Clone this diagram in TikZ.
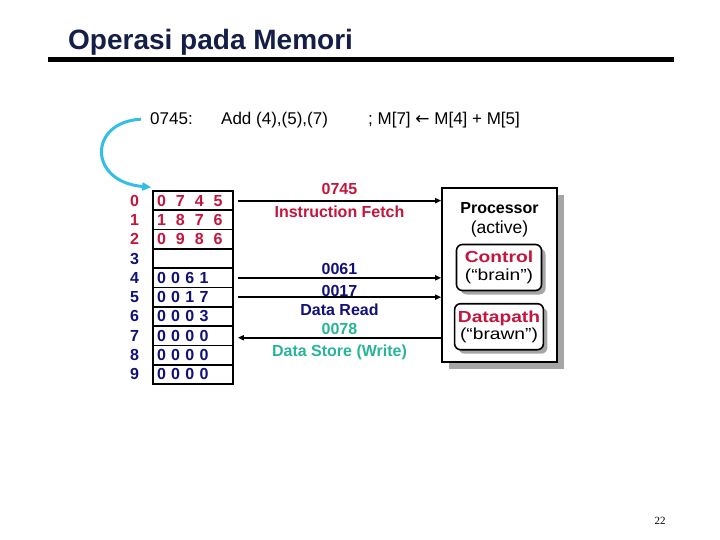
\documentclass[tikz,border=0pt]{standalone}
\usepackage{fontspec}
\setmainfont{Liberation Sans}
\newfontfamily\pagefont{Liberation Serif}
\newfontfamily\arrowfont{DejaVu Sans}
\newfontfamily\widefont[FakeStretch=1.2]{Liberation Sans}
\usetikzlibrary{arrows.meta,positioning,shadows}
\definecolor{memred}{RGB}{196,22,60}
\definecolor{memblue}{RGB}{16,16,120}
\definecolor{memteal}{RGB}{40,180,150}
\definecolor{titleblue}{RGB}{20,30,70}
\definecolor{fetchcyan}{RGB}{50,190,230}
\newcommand{\dgap}{\hspace{10pt}}

\begin{document}
\begin{tikzpicture}[x=1pt,y=-1pt,>={Triangle[length=6pt,width=5pt]},every node/.style={font=\fontsize{16}{18}\selectfont},cell/.style={draw,line width=1.6pt,minimum height=19.3pt,text width=72pt,inner xsep=4pt,inner ysep=0pt,align=left,font=\fontsize{16}{18}\selectfont\bfseries},idx/.style={inner sep=1pt,font=\fontsize{16}{18}\selectfont\bfseries},bus/.style={->,line width=2pt},tag/.style={inner sep=0pt,font=\fontsize{16}{18}\selectfont\bfseries},unit/.style={draw,fill=white,line width=1.6pt,rounded corners=6pt,align=center,minimum width=85pt,minimum height=46pt,font=\widefont\fontsize{16}{17.5}\selectfont,general shadow={fill=black!35,shadow xshift=4pt,shadow yshift=-4pt}}]
\useasboundingbox (0,0) rectangle (720,540);
% title
\node[anchor=base west,inner sep=0pt,text=titleblue,font=\fontsize{28}{30}\selectfont\bfseries] (title) at (68,50) {Operasi pada Memori};
\draw[line width=5pt] (48,60) -- (674,60);
% instruction
\node[anchor=base west,inner sep=0pt,font=\fontsize{17}{18}\selectfont] (addr) at (150,125) {0745:};
\node[anchor=base west,inner sep=0pt,font=\fontsize{17}{18}\selectfont] (instr) at (221,125) {Add (4),(5),(7)};
\node[anchor=base west,inner sep=0pt,font=\fontsize{17}{18}\selectfont] (note) at (368,125) {; M[7] {\arrowfont ←} M[4] + M[5]};
% memory
\foreach \i/\c/\v in {0/memred/{0\dgap 7\dgap 4\dgap 5},1/memred/{1\dgap 8\dgap 7\dgap 6},2/memred/{0\dgap 9\dgap 8\dgap 6},3/memblue/{},4/memblue/{0 0 6 1},5/memblue/{0 0 1 7},6/memblue/{0 0 0 3},7/memblue/{0 0 0 0},8/memblue/{0 0 0 0},9/memblue/{0 0 0 0}}
{
\node[cell,text=\c] (m\i) at (193,{191+19.3*(\i+0.5)}) {\v};
\node[idx,text=\c,left=12pt of m\i] (n\i) {\i};
}
\draw[->,fetchcyan,line width=3pt,>={Triangle[length=9pt,width=8pt]}] ([xshift=-9pt]addr.west) .. controls (88,122) and (88,182) .. ([shift={(-1,-3)}]m0.north west);
% processor
\node[draw,fill=white,line width=1.6pt,minimum width=115pt,minimum height=174pt,general shadow={fill=black!35,shadow xshift=7pt,shadow yshift=-7pt}] (proc) at (499.5,275) {};
\node[align=center,inner sep=0pt,below=15pt of proc.north,font=\fontsize{16}{20}\selectfont] (ptext) {\textbf{Processor}\\{\fontsize{17.5}{20}\selectfont(active)}};
\node[unit] (ctrl) at (499,267.5) {\textcolor{memred}{\textbf{Control}}\\(“brain”)};
\node[unit] (dpath) at (499,326.7) {\textcolor{memred}{\textbf{Datapath}}\\(“brawn”)};
% buses
\draw[bus] ([xshift=4pt]m0.east) -- (m0.east -| proc.west) node[midway,above=5pt,tag,text=memred] {0745} node[midway,below=4pt,tag,text=memred] {Instruction Fetch};
\draw[bus] ([xshift=4pt]m4.east) -- (m4.east -| proc.west) node[midway,above=2pt,tag,text=memblue] {0061};
\draw[bus] ([xshift=4pt]m5.east) -- (m5.east -| proc.west) node[midway,above=-1pt,tag,text=memblue] {0017} node[midway,below=6pt,tag,text=memblue] {Data Read};
\draw[bus] ([yshift=-2pt]m7.east -| proc.west) -- ([xshift=4pt,yshift=-2pt]m7.east) node[midway,above=2pt,tag,text=memteal] {0078} node[midway,below=6pt,tag,text=memteal] {Data Store (Write)};
% page number
\node[font=\pagefont\fontsize{11}{12}\selectfont] (page) at (660,521) {22};
\end{tikzpicture}
\end{document}
